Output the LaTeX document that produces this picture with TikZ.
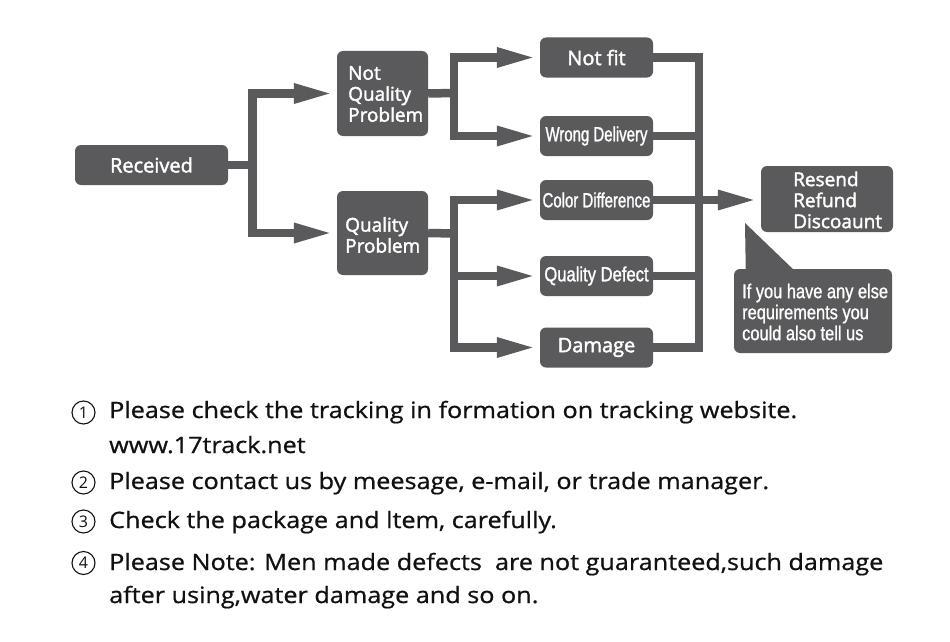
\documentclass[tikz,border=0pt]{standalone}
\usepackage{fontspec}
\setmainfont{Open Sans}
\newfontfamily\boxfont[FakeBold=2]{Open Sans}
\newfontfamily\notefont[FakeStretch=1.12,FakeBold=0.8]{Open Sans}
\newfontfamily\condfont[FakeStretch=0.73,FakeBold=1.2]{Liberation Sans}
\newfontfamily\condwfont[FakeStretch=0.81,FakeBold=1.2]{Liberation Sans}
\newfontfamily\callfont[FakeStretch=0.82,FakeBold=1]{Liberation Sans}
\usetikzlibrary{arrows.meta}
\definecolor{boxgray}{HTML}{5A5A5C}
\definecolor{txt}{HTML}{111111}
\tikzset{
  box/.style={fill=boxgray, rounded corners=6pt, text=white, inner sep=0pt, align=center},
  conn/.style={draw=boxgray, line width=8.5pt},
  arr/.style={conn, -{Triangle[length=40pt,width=18pt]}, shorten >=3pt},
  bigtxt/.style={font=\boxfont\fontsize{20}{21}\selectfont},
  midtxt/.style={font=\boxfont\fontsize{19}{21}\selectfont},
  condtxt/.style={font=\condfont\fontsize{20.5}{21}\selectfont},
  condwtxt/.style={font=\condwfont\fontsize{20.5}{21}\selectfont},
  note/.style={anchor=base west, text=txt, inner sep=0pt, font=\notefont\fontsize{22.5}{26}\selectfont},
  num/.style={circle, draw=txt, line width=1.1pt, minimum size=23pt, inner sep=0pt, text=txt, font=\fontsize{16}{16}\selectfont},
}
\begin{document}
\begin{tikzpicture}[x=1pt,y=-1pt]
\useasboundingbox[fill=white] (0,0) rectangle (950,642);

% boxes
\node[box, bigtxt, minimum width=153pt, minimum height=40pt] (rec) at (151.5,165) {Received};
\node[box, minimum width=91pt, minimum height=85pt] (nqp) at (382.5,93.5) {};
\node[midtxt, text=white, align=left, anchor=west, inner sep=0pt] (nqpt) at (348,94) {Not\\Quality\\Problem};
\node[box, minimum width=91pt, minimum height=84pt] (qp) at (382.5,233) {};
\node[midtxt, text=white, align=left, anchor=west, inner sep=0pt] (qpt) at (345,235) {Quality\\Problem};

\node[box, bigtxt, minimum width=113pt, minimum height=40pt] (nf) at (596.5,57.5) {Not fit};
\node[box, condtxt, minimum width=113pt, minimum height=40pt] (wd) at (596.5,136) {Wrong Delivery};
\node[box, condtxt, minimum width=113pt, minimum height=40pt] (cd) at (596.5,200) {Color Difference};
\node[box, condwtxt, minimum width=113pt, minimum height=40pt] (qd) at (596.5,276) {Quality Defect};
\node[box, bigtxt, minimum width=113pt, minimum height=40pt] (dm) at (596.5,347.5) {Damage};

\node[box, minimum width=132pt, minimum height=66pt] (res) at (827,199) {};
\node[midtxt, text=white, align=left, anchor=west, inner sep=0pt] (rest) at (793,200) {Resend\\Refund\\Discoaunt};

\node[box, minimum width=158pt, minimum height=84pt] (call) at (813,311) {};
\node[font=\callfont\fontsize{20}{21}\selectfont, text=white, align=left, anchor=west, inner sep=0pt] (callt) at (742,312) {If you have any else\\requirements you\\could also tell us};
\coordinate (tip) at (745,223);
\fill[boxgray] (tip) -- ([xshift=12pt,yshift=-4pt]call.north west) -- ([xshift=63pt,yshift=-4pt]call.north west) -- cycle;

% junctions
\coordinate (j1) at (252.5,165);
\coordinate (j2) at (454,93);
\coordinate (j3) at (454,233.5);
\coordinate (jr) at (699,200);

\draw[conn] (rec.east) -- (j1);
\draw[arr] (j1) |- (nqp.west);
\draw[arr] (j1) |- (qp.west);

\draw[conn] (nqp.east) -- (j2);
\draw[arr] (j2) |- (nf.west);
\draw[arr] (j2) |- (wd.west);

\draw[conn] (qp.east) -- (j3);
\draw[arr] (j3) |- (cd.west);
\draw[arr] (j3) |- (qd.west);
\draw[arr] (j3) |- (dm.west);

\draw[conn] (nf.east) -| (jr) |- (dm.east);
\draw[conn] (wd.east) -- (wd.east -| jr);
\draw[conn] (qd.east) -- (qd.east -| jr);
\draw[arr] (cd.east) -- (cd.east -| res.west);

% notes
\node[num] (n1) at (83.5,412.5) {1};
\node[note] (t1) at (109,418) {Please check the tracking in formation on tracking website.};
\node[note] (t1b) at (109,453) {www.17track.net};
\node[num] (n2) at (83.5,482.5) {2};
\node[note] (t2) at (109,489) {Please contact us by meesage, e-mail, or trade manager.};
\node[num] (n3) at (83.5,521.5) {3};
\node[note] (t3) at (109,528) {Check the package and ltem, carefully.};
\node[num] (n4) at (83.5,563) {4};
\node[note] (t4) at (109,570) {Please Note: Men made defects\ \ are not guaranteed,such damage};
\node[note] (t4b) at (109,603) {after using,water damage and so on.};
\end{tikzpicture}
\end{document}
